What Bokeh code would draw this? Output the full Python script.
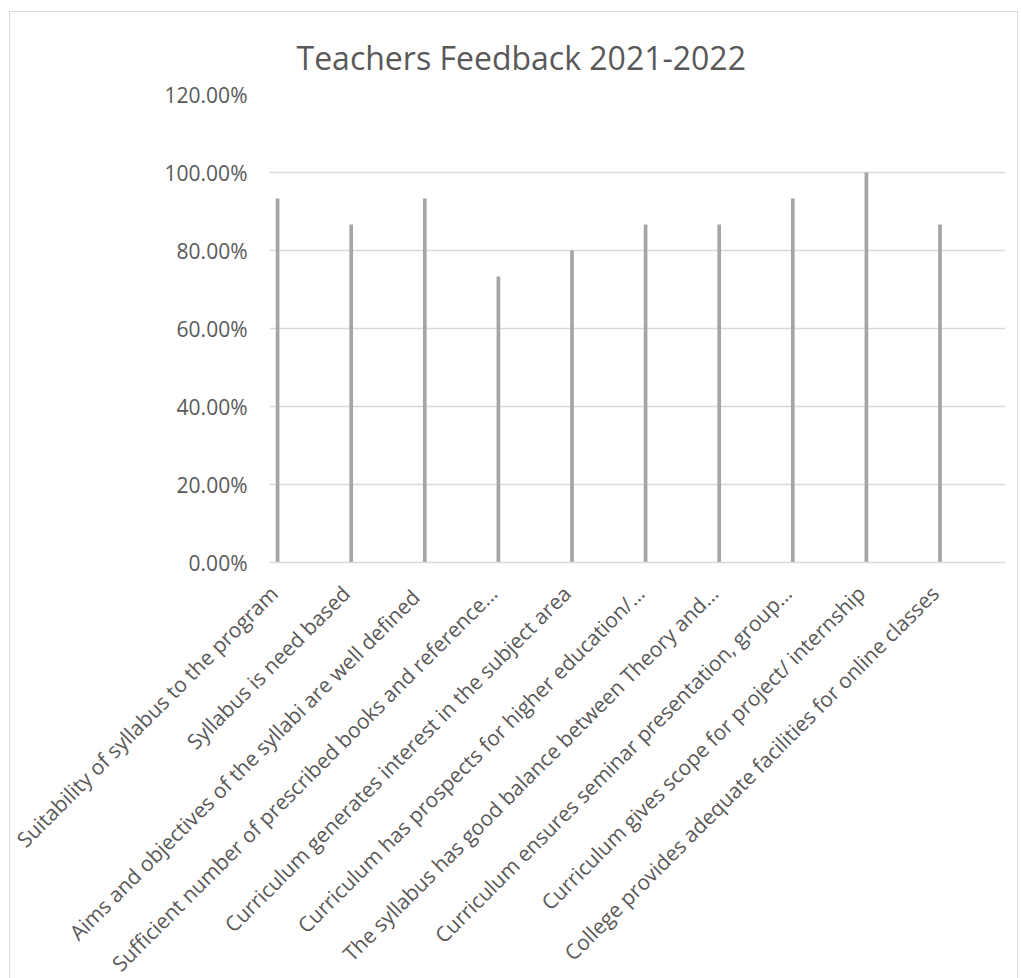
import numpy as np
from bokeh.plotting import figure
from bokeh.models import (ColumnDataSource, Range1d, FixedTicker, NumeralTickFormatter)
from bokeh.transform import dodge
from bokeh.embed import file_html
from bokeh.resources import INLINE

categories = [
    "Suitability of syllabus to the program",
    "Syllabus is need based",
    "Aims and  objectives of the syllabi are well defined",
    "Sufficient number of prescribed books and reference…",
    "Curriculum generates interest in the subject area",
    "Curriculum has prospects for higher education/…",
    "The syllabus has good balance between Theory and…",
    "Curriculum ensures seminar presentation, group…",
    "Curriculum gives scope for project/ internship",
    "College provides adequate facilities for online classes",
]
values = [0.9333, 0.8667, 0.9333, 0.7333, 0.80, 0.8667, 0.8667, 0.9333, 1.00, 0.8667]
y_ticks = [0.0, 0.2, 0.4, 0.6, 0.8, 1.0, 1.2]

FONT = "Open Sans"
GREY_TXT = "#595959"
GRID = "#d9d9d9"

idx = list(range(len(categories)))
source = ColumnDataSource(data=dict(x=idx, v=values))

p = figure(width=1009, height=990, output_backend="svg", toolbar_location=None,
           x_range=Range1d(-0.04, len(categories) - 0.04), y_range=Range1d(0, 1.2),
           min_border_left=259, min_border_right=14, min_border_top=82, min_border_bottom=440,
           margin=(11, 0, -40, 9))
p.styles = {"border": "1px solid #d9d9d9"}
p.outline_line_color = None

p.vbar(x=dodge("x", 0.07, range=p.x_range), top="v", bottom=0, width=0.05,
       source=source, fill_color="#a5a5a5", line_color=None)

p.title.text = "Teachers Feedback 2021-2022"
p.title.text_font = FONT
p.title.text_font_size = "32px"
p.title.text_font_style = "normal"
p.title.text_color = GREY_TXT
p.title.align = "left"
p.title.offset = 27
p.title.standoff = 31

p.xgrid.grid_line_color = None
p.ygrid.grid_line_color = GRID
p.ygrid.grid_line_width = 1.5

p.yaxis.ticker = FixedTicker(ticks=y_ticks)
p.yaxis.formatter = NumeralTickFormatter(format="0.00%")
p.yaxis.axis_line_color = None
p.yaxis.major_tick_line_color = None
p.yaxis.minor_tick_line_color = None
p.yaxis.major_label_text_font = FONT
p.yaxis.major_label_text_font_size = "21px"
p.yaxis.major_label_text_color = GREY_TXT
p.yaxis.major_label_standoff = 16

p.xaxis.ticker = FixedTicker(ticks=idx)
p.xaxis.major_label_overrides = {i: c for i, c in zip(idx, categories)}
p.xaxis.major_label_orientation = np.pi / 4
p.xaxis.axis_line_color = GRID
p.xaxis.axis_line_width = 1.5
p.xaxis.major_tick_line_color = None
p.xaxis.minor_tick_line_color = None
p.xaxis.major_label_text_font = FONT
p.xaxis.major_label_text_font_size = "21px"
p.xaxis.major_label_text_color = GREY_TXT
p.xaxis.major_label_standoff = 21

open("out.html", "w").write(file_html(p, INLINE))
